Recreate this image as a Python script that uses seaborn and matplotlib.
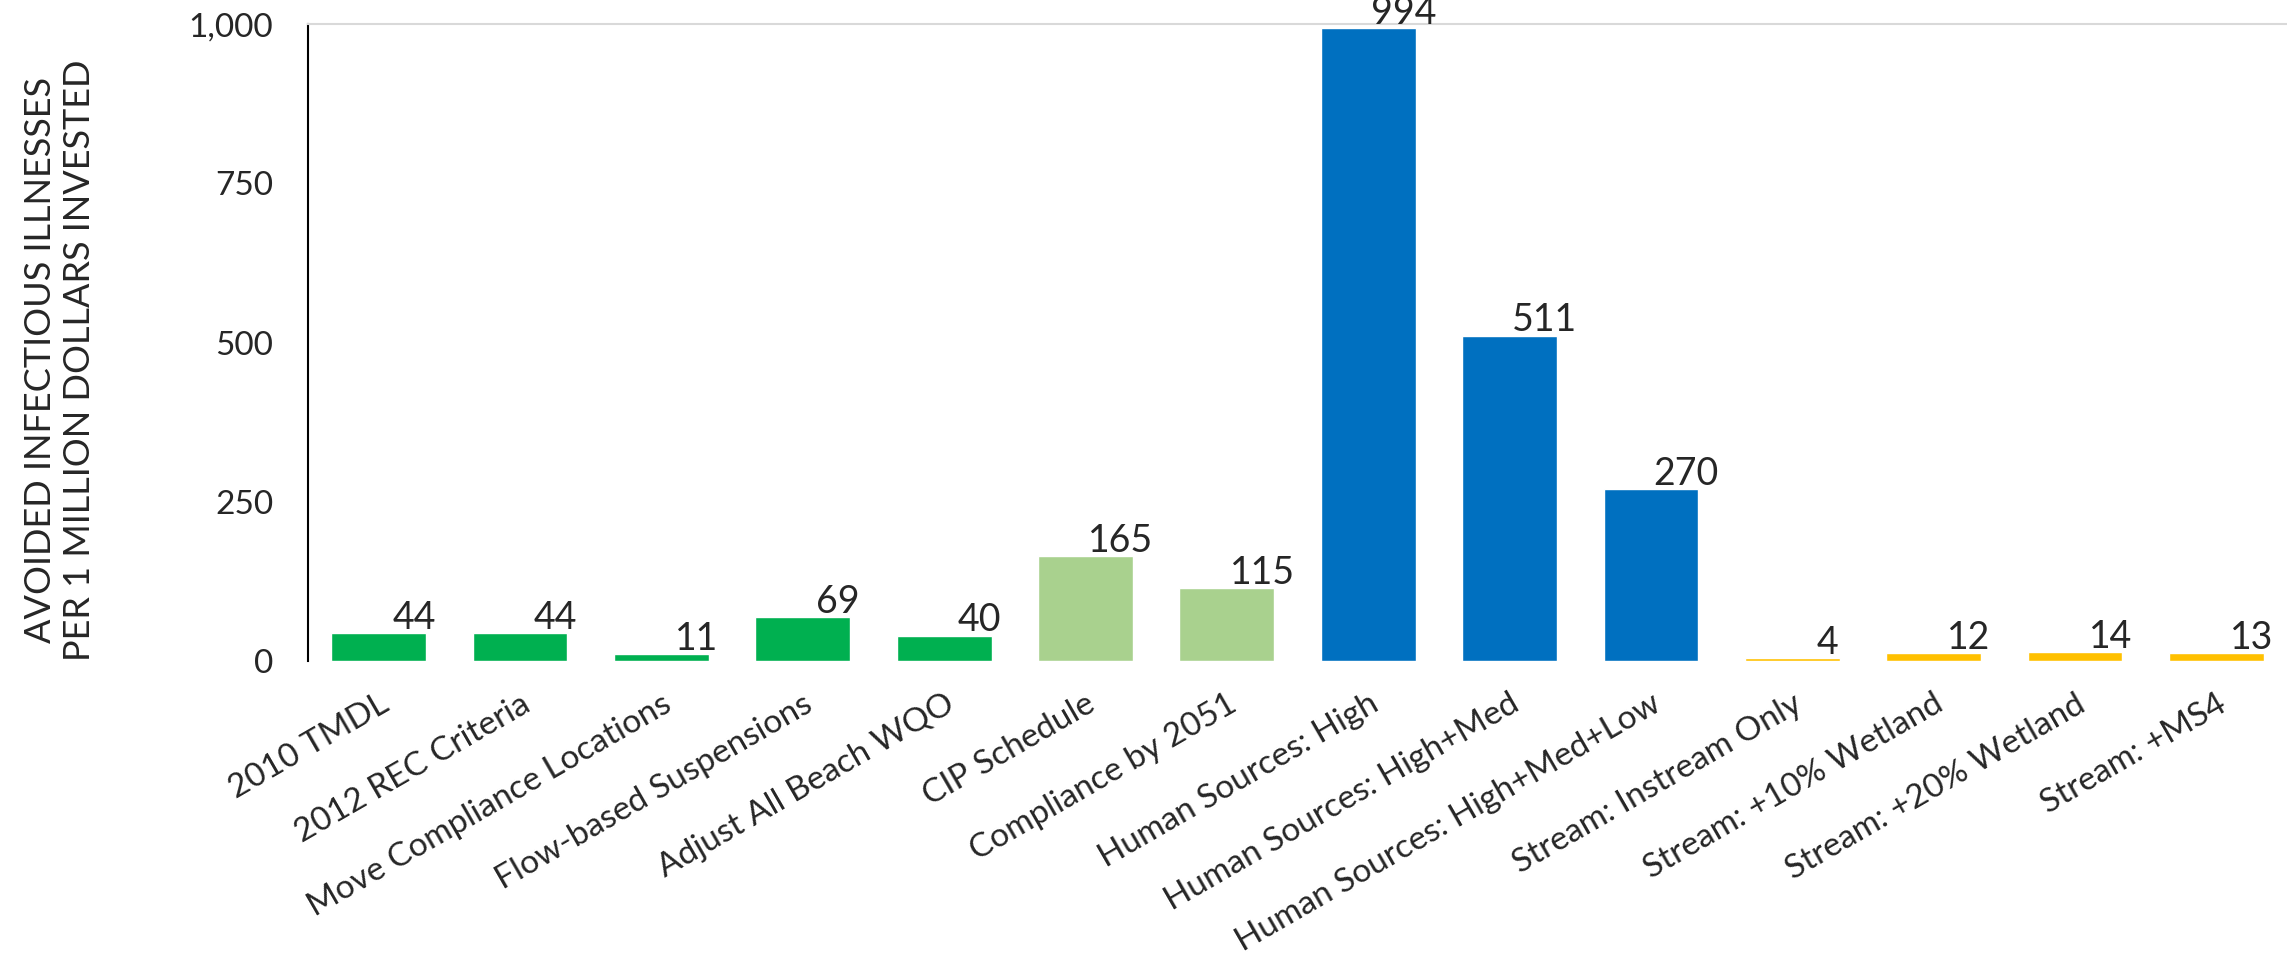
import matplotlib
matplotlib.use("Agg")
import matplotlib.pyplot as plt
import seaborn as sns
import pandas as pd

categories = [
    "2010 TMDL", "2012 REC Criteria", "Move Compliance Locations",
    "Flow-based Suspensions", "Adjust All Beach WQO", "CIP Schedule",
    "Compliance by 2051", "Human Sources: High", "Human Sources: High+Med",
    "Human Sources: High+Med+Low", "Stream: Instream Only",
    "Stream: +10% Wetland", "Stream: +20% Wetland", "Stream: +MS4",
]
values = [44, 44, 11, 69, 40, 165, 115, 994, 511, 270, 4, 12, 14, 13]
groups = ["Regulatory"] * 5 + ["Schedule"] * 2 + ["Human"] * 3 + ["Stream"] * 4
group_colors = {"Regulatory": "#00B050", "Schedule": "#A9D18E",
                "Human": "#0070C0", "Stream": "#FFC000"}
y_ticks = [0, 250, 500, 750, 1000]
y_label = "AVOIDED INFECTIOUS ILLNESSES\nPER 1 MILLION DOLLARS INVESTED"

sns.set_style("white")
plt.rcParams["font.family"] = ["Lato", "DejaVu Sans"]

df = pd.DataFrame({"category": categories, "value": values, "group": groups})
bar_colors = [group_colors[g] for g in groups]

fig = plt.figure(figsize=(22.87, 9.64), dpi=100)
ax = fig.add_axes([0.1347, 0.3143, 0.8653, 0.6607])

sns.barplot(data=df, x="category", y="value", hue="category",
            palette=bar_colors, legend=False, width=0.67,
            saturation=1, ax=ax)

ax.set_ylim(0, 1000)
ax.set_yticks(y_ticks)
ax.set_yticklabels([f"{t:,}" for t in y_ticks], fontsize=24)
ax.tick_params(axis="y", length=0, pad=25)
ax.tick_params(axis="x", length=0, pad=20)
ax.set_xticks(range(len(categories)))
ax.set_xticklabels(categories, rotation=30, ha="right",
                   rotation_mode="anchor", fontsize=24)
ax.set_xlabel("")
ax.set_ylabel(y_label, fontsize=26, linespacing=1.25)
ax.yaxis.set_label_coords(-0.107, 0.4725)

for side in ("right", "bottom"):
    ax.spines[side].set_visible(False)
ax.spines["left"].set_color("black")
ax.spines["left"].set_linewidth(1.5)
ax.spines["top"].set_color("#D9D9D9")
ax.spines["top"].set_linewidth(1.5)

for i, v in enumerate(values):
    ax.annotate(f"{v}", xy=(i + 0.25, v), xytext=(0, 3),
                textcoords="offset points", ha="center", va="baseline",
                fontsize=27, clip_on=False, annotation_clip=False)

fig.savefig("out.png", dpi=100)
